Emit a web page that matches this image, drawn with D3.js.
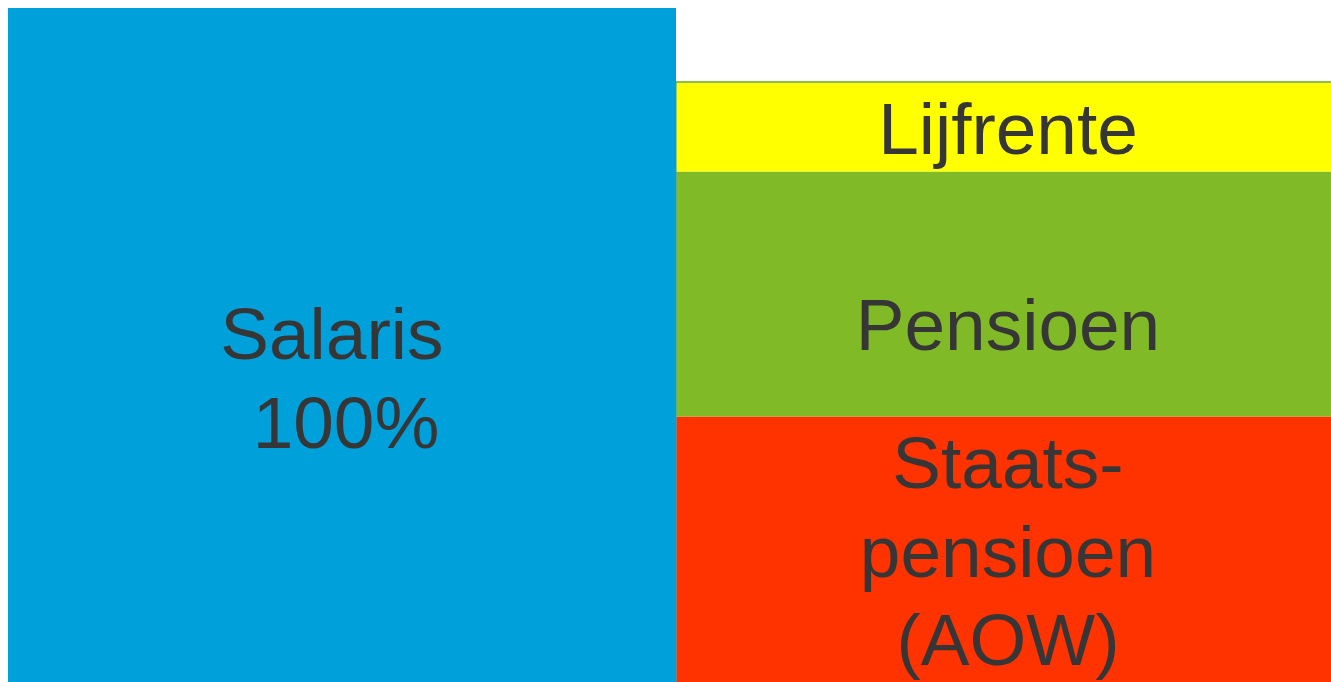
<!DOCTYPE html>
<html>
<head>
<meta charset="utf-8">
<script src="https://cdn.jsdelivr.net/npm/d3@7"></script>
<style>
  html, body { margin: 0; padding: 0; background: #ffffff; overflow: hidden; }
  svg { display: block; }
</style>
</head>
<body>
<svg id="chart" width="1331" height="682"></svg>
<script>
// ---- data ----
const columns = ["Nu", "Later"];
const salarisValues = [100];                       // % of salary, column "Nu"
const segmentNames = ["Staatspensioen (AOW)", "Pensioen", "Lijfrente"];
const segmentValues = [44.8, 33.1, 12.1];         // % of salary, column "Later"
const salarisLabel = ["Salaris\u00a0", "100%"];
const segmentLabels = [["Staats-", "pensioen", "(AOW)"], ["Pensioen"], ["Lijfrente"]];

// ---- styling / layout ----
const W = 1331, H = 682;
const colors = { salaris: "#00A0DA", "Staatspensioen (AOW)": "#FF3300", "Pensioen": "#80BA26", "Lijfrente": "#FFFF00" };
const textColor = "#363636";
const fontSize = 73, lineH = 88.5;
// baseline of first label line relative to segment centre
const labelShift = { salaris: -19, "Staatspensioen (AOW)": -94, "Pensioen": 56, "Lijfrente": 27 };

const svg = d3.select("#chart");

const x = d3.scaleBand().domain(columns).range([8, 1344]).padding(0);
const y = d3.scaleLinear().domain([0, 100]).range([748, 8]);

// stacked data for the "Later" column
const row = {};
segmentNames.forEach((n, i) => row[n] = segmentValues[i]);
const stacked = d3.stack().keys(segmentNames)([row]);

// Salaris bar
svg.append("rect")
  .attr("x", x("Nu"))
  .attr("width", x.bandwidth())
  .attr("y", y(salarisValues[0]))
  .attr("height", y(0) - y(salarisValues[0]))
  .attr("fill", colors.salaris);

// stacked bars
const segs = svg.selectAll("g.seg").data(stacked).join("g").attr("class", "seg");
segs.append("rect")
  .attr("x", x("Later"))
  .attr("width", x.bandwidth())
  .attr("y", d => y(d[0][1]))
  .attr("height", d => y(d[0][0]) - y(d[0][1]))
  .attr("fill", d => colors[d.key]);

// thin green top edge of the stack
const topVal = d3.sum(segmentValues);
svg.append("line")
  .attr("x1", x("Later")).attr("x2", x("Later") + x.bandwidth())
  .attr("y1", y(topVal)).attr("y2", y(topVal))
  .attr("stroke", "#8DBE4A").attr("stroke-width", 2);

// separator line between columns
svg.append("line")
  .attr("x1", x("Later") + 0.5).attr("x2", x("Later") + 0.5)
  .attr("y1", y(topVal)).attr("y2", H)
  .attr("stroke", "#5aa6a0").attr("stroke-width", 1).attr("opacity", 0.6);

function addLabel(lines, cx, baseline, dxs) {
  const t = svg.append("text")
    .attr("text-anchor", "middle")
    .attr("font-family", "Liberation Sans, Arial, sans-serif")
    .attr("font-size", fontSize)
    .attr("fill", textColor);
  lines.forEach((ln, i) => {
    t.append("tspan").attr("x", cx + (dxs ? dxs[i] : 0)).attr("y", baseline + i * lineH).text(ln);
  });
}

// Salaris label
addLabel(salarisLabel, x("Nu") + x.bandwidth() / 2,
  (y(0) + y(salarisValues[0])) / 2 + labelShift.salaris, [0, 4]);

// segment labels
stacked.forEach((s, i) => {
  const mid = (y(s[0][0]) + y(s[0][1])) / 2;
  addLabel(segmentLabels[i], x("Later") + x.bandwidth() / 2 - 2, mid + labelShift[s.key]);
});
</script>
</body>
</html>
